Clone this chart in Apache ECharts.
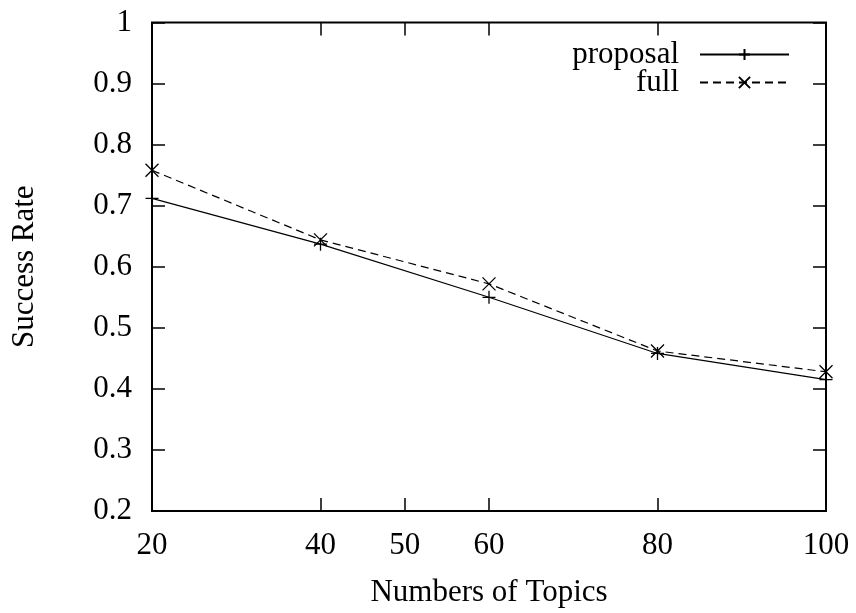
<!DOCTYPE html>
<html>
<head>
<meta charset="utf-8">
<script src="https://cdn.jsdelivr.net/npm/echarts@6/dist/echarts.min.js"></script>
<style>
  html, body { margin: 0; padding: 0; background: #fff; }
  #chart { width: 856px; height: 613px; }
</style>
</head>
<body>
<div id="chart"></div>
<script>
// Topic counts on the x axis and success rate of each method
const topics = [20, 40, 60, 80, 100];
const proposal = [0.712, 0.637, 0.550, 0.458, 0.415];
const full = [0.758, 0.644, 0.572, 0.462, 0.428];
const xTicks = [20, 40, 50, 60, 80, 100];
const yTicks = [0.2, 0.3, 0.4, 0.5, 0.6, 0.7, 0.8, 0.9, 1];

const FONT = 'Liberation Serif';
const FS = 31;
const plusPath = 'path://M0,-6L0,6M-6,0L6,0';
const crossPath = 'path://M-6,-6L6,6M-6,6L6,-6';

const toPairs = (xs, ys) => xs.map((x, i) => [x, ys[i]]);

const chart = echarts.init(document.getElementById('chart'), null, { renderer: 'canvas' });

const baseX = {
  type: 'value', min: 20, max: 100, interval: 10,
  splitLine: { show: false },
  axisLine: { show: false },
  axisTick: { show: true, inside: true, length: 13, customValues: xTicks,
              lineStyle: { color: '#000', width: 1.5 } }
};
const baseY = {
  type: 'value', min: 0.2, max: 1, interval: 0.1,
  splitLine: { show: false },
  axisLine: { show: false },
  axisTick: { show: true, inside: true, length: 13,
              lineStyle: { color: '#000', width: 1.5 } }
};

chart.setOption({
  animation: false,
  backgroundColor: '#fff',
  textStyle: { fontFamily: FONT, color: '#000' },
  grid: {
    left: 152, right: 30, top: 22.5, bottom: 99.5,
    show: true, borderColor: '#000', borderWidth: 2, backgroundColor: 'transparent'
  },
  legend: {
    right: 61, top: 34, orient: 'vertical', align: 'right',
    itemWidth: 89, itemHeight: 14, itemGap: -3,
    textStyle: { fontFamily: FONT, fontSize: FS, color: '#000', lineHeight: 27, padding: [0, 16, 0, 0] },
    data: ['proposal', 'full']
  },
  xAxis: [
    Object.assign({}, baseX, {
      position: 'bottom',
      name: 'Numbers of Topics', nameLocation: 'middle', nameGap: 66,
      nameTextStyle: { fontFamily: FONT, fontSize: FS, color: '#000' },
      axisLabel: { show: true, customValues: xTicks, margin: 19,
                   fontFamily: FONT, fontSize: FS, color: '#000' }
    }),
    Object.assign({}, baseX, { position: 'top', axisLabel: { show: false } })
  ],
  yAxis: [
    Object.assign({}, baseY, {
      position: 'left',
      name: 'Success Rate', nameLocation: 'middle', nameGap: 112,
      nameTextStyle: { fontFamily: FONT, fontSize: FS, color: '#000' },
      axisLabel: { show: true, margin: 20, fontFamily: FONT, fontSize: FS, color: '#000',
                   formatter: v => String(Math.round(v * 10) / 10) }
    }),
    Object.assign({}, baseY, { position: 'right', axisLabel: { show: false } })
  ],
  series: [
    {
      name: 'proposal', type: 'line', xAxisIndex: 0, yAxisIndex: 0,
      data: toPairs(topics, proposal),
      symbol: plusPath, symbolSize: 13, clip: false,
      lineStyle: { color: '#000', width: 1.2, type: 'solid' },
      itemStyle: { color: '#000', borderColor: '#000', borderWidth: 1.3 }
    },
    {
      name: 'full', type: 'line', xAxisIndex: 0, yAxisIndex: 0,
      data: toPairs(topics, full),
      symbol: crossPath, symbolSize: 13, clip: false,
      lineStyle: { color: '#000', width: 1.2, type: [8, 5] },
      itemStyle: { color: '#000', borderColor: '#000', borderWidth: 1.3 }
    }
  ]
});
</script>
</body>
</html>
